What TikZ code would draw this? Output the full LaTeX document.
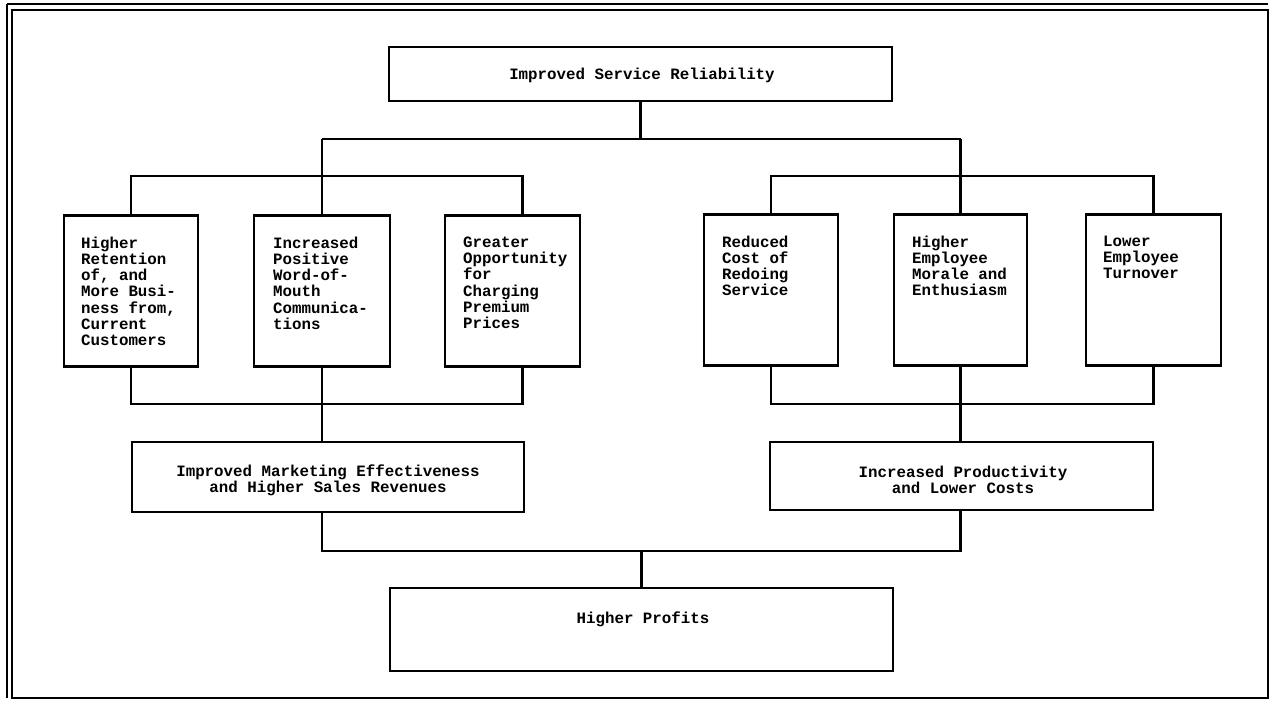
\documentclass[tikz,border=0pt]{standalone}
\usepackage{fontspec}
\newfontfamily\typer{Liberation Mono}
\begin{document}
\begin{tikzpicture}[x=1pt,y=-1pt,
  every node/.style={inner sep=0pt},
  boxline/.style={draw=black,line width=2.2pt},
  wire/.style={draw=black,line width=2.2pt},
  framed/.style={draw=black,line width=1.5pt},
  tall/.style={boxline,minimum width=134pt,minimum height=151pt},
  wide/.style={boxline},
  label/.style={font=\typer\bfseries\fontsize{15.8}{16.3}\selectfont,align=left,anchor=north west},
  ctext/.style={font=\typer\bfseries\fontsize{15.8}{16.3}\selectfont,align=center}]
\useasboundingbox (0,0) rectangle (1274,701);

% page frame
\draw[framed] (12,10) rectangle (1268,698);
\draw[framed] (7,4) -- (7,698);
\draw[framed] (7,4) -- (1268,4);

% levels of the connecting lines
\coordinate (r1) at (0,139);
\coordinate (r2) at (0,176);
\coordinate (r3) at (0,404);
\coordinate (r4) at (0,551);

% top
\node[wide,minimum width=503pt,minimum height=54pt] (top) at (640.5,74) {};
\node[ctext] (toptext) at (642,75) {Improved Service Reliability};

% first group
\node[tall,minimum width=134pt] (b1) at (131,291) {};
\node[tall,minimum width=136pt] (b2) at (322,291) {};
\node[tall,minimum width=135pt] (b3) at (512.5,291) {};
\node[label] (t1) at ([xshift=18pt,yshift=-22pt]b1.north west) {Higher\\Retention\\of, and\\More Busi-\\ness from,\\Current\\Customers};
\node[label] (t2) at ([xshift=20pt,yshift=-22pt]b2.north west) {Increased\\Positive\\Word-of-\\Mouth\\Communica-\\tions};
\node[label] (t3) at ([xshift=19pt,yshift=-22pt]b3.north west) {Greater\\Opportunity\\for\\Charging\\Premium\\Prices};

% second group
\node[tall,minimum width=134pt] (b4) at (771,290) {};
\node[tall,minimum width=133pt] (b5) at (960.5,290) {};
\node[tall,minimum width=135pt] (b6) at (1153.5,290) {};
\node[label] (t4) at ([xshift=19pt,yshift=-22pt]b4.north west) {Reduced\\Cost of\\Redoing\\Service};
\node[label] (t5) at ([xshift=19pt,yshift=-22pt]b5.north west) {Higher\\Employee\\Morale and\\Enthusiasm};
\node[label] (t6) at ([xshift=18pt,yshift=-22pt]b6.north west) {Lower\\Employee\\Turnover};

% middle results
\node[wide,minimum width=392pt,minimum height=70pt] (mL) at (328,477) {};
\node[ctext] (mLtext) at (328,480) {Improved Marketing Effectiveness\\and Higher Sales Revenues};
\node[wide,minimum width=383pt,minimum height=68pt] (mR) at (961.5,476) {};
\node[ctext] (mRtext) at (963,480) {Increased Productivity\\and Lower Costs};

% bottom
\node[wide,minimum width=503pt,minimum height=83pt] (bot) at (641.5,629.5) {};
\node[ctext] (bottext) at (643,619) {Higher Profits};

% stubs off the third box
\coordinate (b3n) at ([xshift=10pt]b3.north);
\coordinate (b3s) at ([xshift=10pt]b3.south);

% top fan-out
\draw[wire] (top.south) -- (top.south |- r1);
\draw[wire] (b2.north |- r1) -- (b5.north |- r1);
\draw[wire] (b2.north |- r1) -- (b2.north);
\draw[wire] (b5.north |- r1) -- (b5.north);
\draw[wire] (b1.north) |- (b3n |- r2) -- (b3n);
\draw[wire] (b4.north) |- (b6.north |- r2) -- (b6.north);

% group fan-in
\draw[wire] (b1.south) |- (b3s |- r3) -- (b3s);
\draw[wire] (b2.south) -- (b2.south |- mL.north);
\draw[wire] (b4.south) |- (b6.south |- r3) -- (b6.south);
\draw[wire] (b5.south) -- (b5.south |- mR.north);

% to profits
\draw[wire] (b2.south |- mL.south) -- (b2.south |- r4) -- (b5.south |- r4) -- (b5.south |- mR.south);
\draw[wire] (bot.north |- r4) -- (bot.north);
\end{tikzpicture}
\end{document}
